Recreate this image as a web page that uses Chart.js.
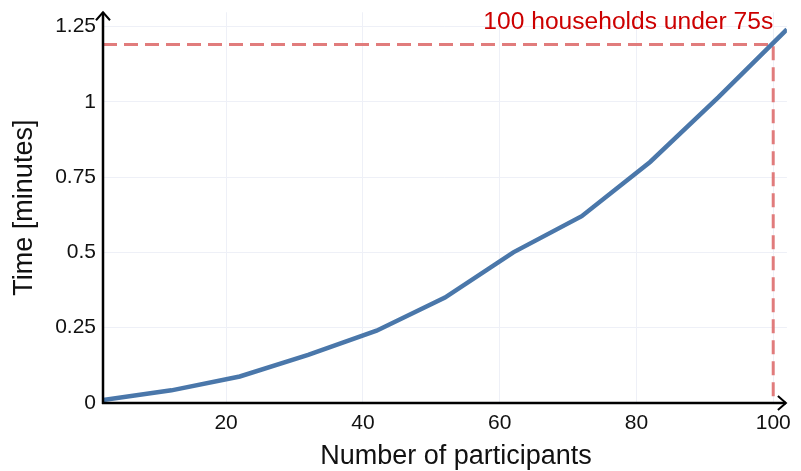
<!DOCTYPE html>
<html>
<head>
<meta charset="utf-8">
<script src="https://cdn.jsdelivr.net/npm/chart.js@4/dist/chart.umd.min.js"></script>
<style>
  html, body { margin: 0; padding: 0; background: #fff; }
  #wrap { width: 801px; height: 471px; }
</style>
</head>
<body>
<div id="wrap"><canvas id="chart"></canvas></div>
<script>
// participants vs time (minutes)
const participants = [2, 12, 22, 32, 42, 52, 62, 72, 82, 92, 102];
const timeMinutes = [0.01, 0.042, 0.088, 0.16, 0.24, 0.35, 0.5, 0.62, 0.8, 1.015, 1.24];

const xTicks = [20, 40, 60, 80, 100];
const yTicks = [0, 0.25, 0.5, 0.75, 1, 1.25];

// threshold marker: 100 households, 1.19 min
const thresholdX = 100;
const thresholdY = 1.19;
const thresholdLabel = '100 households under 75s';
const xTitle = 'Number of participants';

const FONT = 'Arial, "Liberation Sans", sans-serif';

const axesPlugin = {
    id: 'axesArrows',
    afterDatasetsDraw(chart) {
        const ctx = chart.ctx;
        const a = chart.chartArea;
        ctx.save();
        ctx.strokeStyle = '#000';
        ctx.fillStyle = '#000';
        ctx.lineWidth = 2.5;
        ctx.lineCap = 'butt';
        // y axis
        ctx.beginPath();
        ctx.moveTo(a.left, a.bottom + 1);
        ctx.lineTo(a.left, a.top);
        ctx.stroke();
        // x axis
        ctx.beginPath();
        ctx.moveTo(a.left - 1, a.bottom);
        ctx.lineTo(a.right - 1, a.bottom);
        ctx.stroke();
        // arrowheads
        ctx.lineWidth = 2;
        ctx.beginPath();
        ctx.moveTo(a.left - 7, a.top + 8);
        ctx.lineTo(a.left, a.top);
        ctx.lineTo(a.left + 7, a.top + 8);
        ctx.stroke();
        ctx.beginPath();
        ctx.moveTo(a.right - 9, a.bottom - 7);
        ctx.lineTo(a.right - 1, a.bottom);
        ctx.lineTo(a.right - 9, a.bottom + 7);
        ctx.stroke();

        // threshold label
        const xs = chart.scales.x;
        ctx.font = '24.6px ' + FONT;
        ctx.fillStyle = '#cc0000';
        ctx.textAlign = 'right';
        ctx.textBaseline = 'alphabetic';
        ctx.fillText(thresholdLabel, xs.getPixelForValue(thresholdX), 29);

        // x axis title (sits a little right of the plot centre)
        ctx.font = '27px ' + FONT;
        ctx.fillStyle = '#111';
        ctx.textAlign = 'center';
        ctx.textBaseline = 'middle';
        ctx.fillText(xTitle, (a.left + a.right) / 2 + 11, 457);
        ctx.restore();
    }
};

new Chart(document.getElementById('chart'), {
    type: 'line',
    data: {
        datasets: [
            {
                data: participants.map((p, i) => ({ x: p, y: timeMinutes[i] })),
                borderColor: '#4a77aa',
                borderWidth: 4.5,
                pointRadius: 0,
                tension: 0,
                order: 1
            },
            {
                data: [
                    { x: participants[0], y: thresholdY },
                    { x: thresholdX, y: thresholdY },
                    { x: thresholdX, y: 0 }
                ],
                borderColor: 'rgba(222, 110, 110, 0.9)',
                borderWidth: 3,
                borderDash: [14, 7],
                pointRadius: 0,
                tension: 0,
                order: 2
            }
        ]
    },
    options: {
        responsive: true,
        maintainAspectRatio: false,
        animation: false,
        layout: { padding: { top: 12, right: 13, left: 0, bottom: 0 } },
        plugins: {
            legend: { display: false },
            tooltip: { enabled: false }
        },
        scales: {
            x: {
                type: 'linear',
                min: 2,
                max: 102,
                afterBuildTicks: s => { s.ticks = xTicks.map(v => ({ value: v })); },
                afterFit: s => { s.height = 68; },
                grid: { color: '#eef0f7', lineWidth: 1, drawTicks: false },
                border: { display: false },
                ticks: {
                    color: '#111',
                    font: { family: FONT, size: 21, lineHeight: 1 },
                    padding: 10,
                    maxRotation: 0
                },
                title: { display: false }
            },
            y: {
                type: 'linear',
                min: 0,
                max: 1.297,
                afterBuildTicks: s => { s.ticks = yTicks.map(v => ({ value: v })); },
                afterFit: s => { s.width = 103; },
                grid: { color: '#eef0f7', lineWidth: 1, drawTicks: false },
                border: { display: false },
                ticks: {
                    color: '#111',
                    font: { family: FONT, size: 21, lineHeight: 0.5 },
                    padding: 7,
                    callback: v => String(v)
                },
                title: {
                    display: true,
                    text: 'Time [minutes]',
                    color: '#111',
                    font: { family: FONT, size: 27 },
                    padding: { top: 8, bottom: 0 }
                }
            }
        }
    },
    plugins: [axesPlugin]
});
</script>
</body>
</html>
